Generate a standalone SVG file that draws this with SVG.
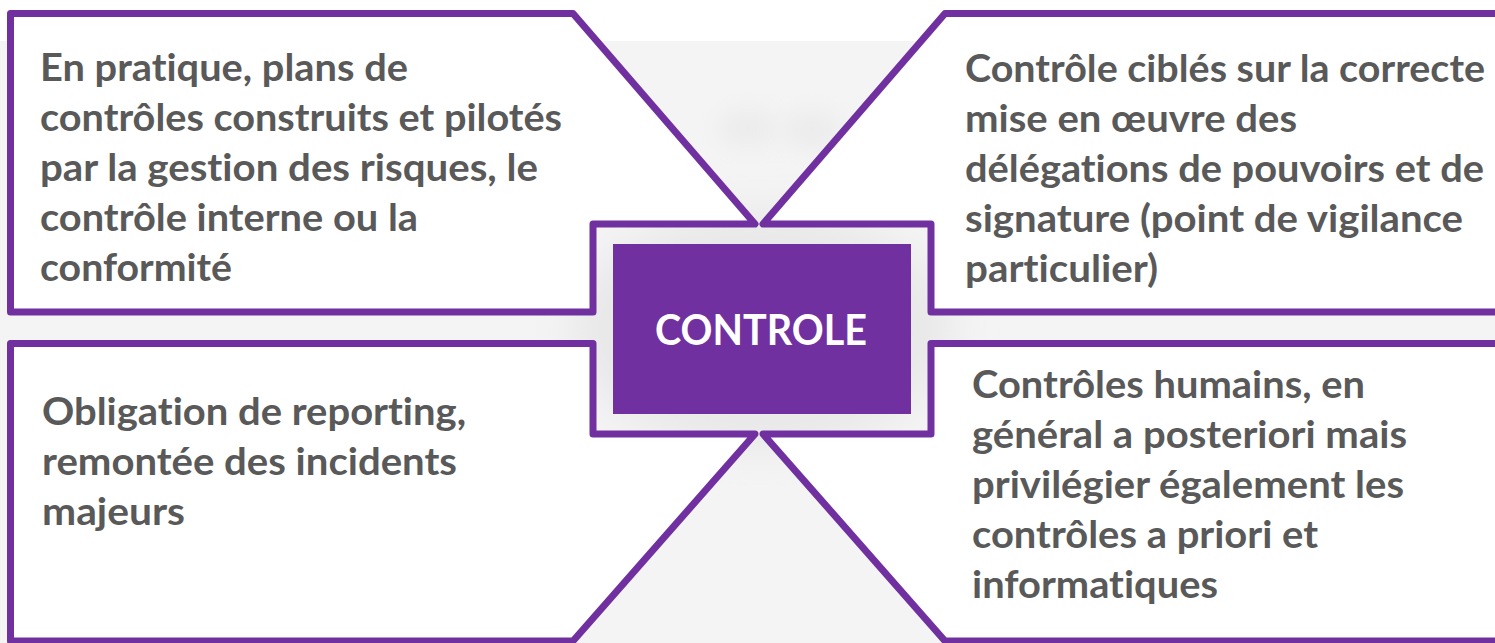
<svg xmlns="http://www.w3.org/2000/svg" width="1495" height="643" viewBox="0 0 1495 643">
  <style>
    .panel { fill: #ffffff; stroke: #7030A0; stroke-width: 7; stroke-linejoin: round; }
    .txt { font-family: Lato, "Open Sans", "Liberation Sans", sans-serif; font-weight: 700; font-size: 38px; fill: #595959; font-variant-ligatures: none; font-feature-settings: "liga" 0, "clig" 0; }
    .title { font-family: Lato, "Open Sans", "Liberation Sans", sans-serif; font-weight: 700; font-size: 42px; fill: #ffffff; }
  </style>
  <defs>
    <filter id="soft" x="-50%" y="-50%" width="200%" height="200%">
      <feGaussianBlur stdDeviation="20"/>
    </filter>
    <filter id="softer" x="-80%" y="-80%" width="260%" height="260%">
      <feGaussianBlur stdDeviation="12"/>
    </filter>
  </defs>

  <!-- backdrop -->
  <rect x="0" y="0" width="1495" height="643" fill="#ffffff"/>
  <rect x="0" y="41" width="1495" height="602" fill="#f4f4f4"/>
  <g id="backdrop-shading">
    <ellipse cx="762" cy="330" rx="190" ry="120" fill="#e8e8e8" filter="url(#soft)"/>
    <ellipse cx="748" cy="128" rx="30" ry="18" fill="#ebebeb" filter="url(#softer)"/>
    <ellipse cx="812" cy="130" rx="30" ry="18" fill="#ebebeb" filter="url(#softer)"/>
  </g>

  <!-- top-left panel -->
  <g id="panel-top-left">
    <path class="panel" d="M10.5,13.5 H573 L755,224 H593 V312 H10.5 Z"/>
    <text class="txt">
      <tspan x="40" y="81" textLength="368" lengthAdjust="spacingAndGlyphs">En pratique, plans de</tspan>
      <tspan x="40" y="131" textLength="522" lengthAdjust="spacingAndGlyphs">contrôles construits et pilotés</tspan>
      <tspan x="40" y="181" textLength="498" lengthAdjust="spacingAndGlyphs">par la gestion des risques, le</tspan>
      <tspan x="40" y="231" textLength="378" lengthAdjust="spacingAndGlyphs">contrôle interne ou la</tspan>
      <tspan x="40" y="281" textLength="192" lengthAdjust="spacingAndGlyphs">conformité</tspan>
    </text>
  </g>

  <!-- top-right panel -->
  <g id="panel-top-right">
    <path class="panel" d="M1505,13.5 H945 L763,224 H931 V312 H1505 Z"/>
    <text class="txt">
      <tspan x="965" y="82" textLength="520" lengthAdjust="spacingAndGlyphs">Contrôle ciblés sur la correcte</tspan>
      <tspan x="965" y="132" textLength="332" lengthAdjust="spacingAndGlyphs">mise en œuvre des</tspan>
      <tspan x="965" y="182" textLength="519" lengthAdjust="spacingAndGlyphs">délégations de pouvoirs et de</tspan>
      <tspan x="965" y="232" textLength="498" lengthAdjust="spacingAndGlyphs">signature (point de vigilance</tspan>
      <tspan x="965" y="282" textLength="193" lengthAdjust="spacingAndGlyphs">particulier)</tspan>
    </text>
  </g>

  <!-- bottom-left panel -->
  <g id="panel-bottom-left">
    <path class="panel" d="M10.5,343.5 H593 V434 H755 L573,641 H10.5 Z"/>
    <text class="txt">
      <tspan x="42" y="425" textLength="424" lengthAdjust="spacingAndGlyphs">Obligation de reporting,</tspan>
      <tspan x="42" y="475" textLength="415" lengthAdjust="spacingAndGlyphs">remontée des incidents</tspan>
      <tspan x="42" y="525" textLength="143" lengthAdjust="spacingAndGlyphs">majeurs</tspan>
    </text>
  </g>

  <!-- bottom-right panel -->
  <g id="panel-bottom-right">
    <path class="panel" d="M1505,343.5 H931 V434 H763 L945,641 H1505 Z"/>
    <text class="txt">
      <tspan x="972" y="398" textLength="393" lengthAdjust="spacingAndGlyphs">Contrôles humains, en</tspan>
      <tspan x="972" y="448" textLength="435" lengthAdjust="spacingAndGlyphs">général a posteriori mais</tspan>
      <tspan x="972" y="498" textLength="432" lengthAdjust="spacingAndGlyphs">privilégier également les</tspan>
      <tspan x="972" y="548" textLength="346" lengthAdjust="spacingAndGlyphs">contrôles a priori et</tspan>
      <tspan x="972" y="598" textLength="246" lengthAdjust="spacingAndGlyphs">informatiques</tspan>
    </text>
  </g>

  <!-- central block -->
  <g id="center">
    <rect x="613" y="244" width="298" height="170" fill="#7030A0"/>
    <text class="title" x="655" y="345" textLength="212" lengthAdjust="spacingAndGlyphs">CONTROLE</text>
  </g>
</svg>
